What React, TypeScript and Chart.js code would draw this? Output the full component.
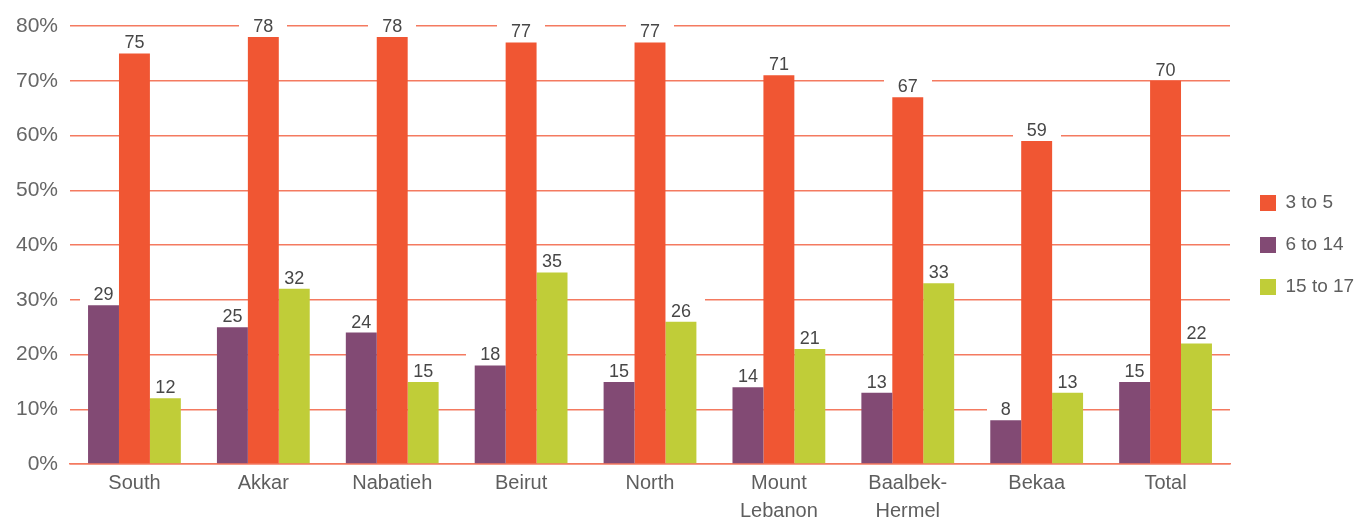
import React, { useEffect, useRef } from 'react';
import { Chart, registerables } from 'chart.js';

Chart.register(...registerables);

const categories: (string | string[])[] = [
  'South', 'Akkar', 'Nabatieh', 'Beirut', 'North',
  ['Mount', 'Lebanon'], ['Baalbek-', 'Hermel'], 'Bekaa', 'Total',
];
const age6to14 = [29, 25, 24, 18, 15, 14, 13, 8, 15];
const age3to5 = [75, 78, 78, 77, 77, 71, 67, 59, 70];
const age15to17 = [12, 32, 15, 35, 26, 21, 33, 13, 22];
const legendOrder = ['3 to 5', '6 to 14', '15 to 17'];
const yMax = 80;
const yStep = 10;

const FONT = '"Liberation Sans", Arial, sans-serif';
const GRID = '#f47a60';

const valueLabels = {
  id: 'valueLabels',
  beforeDatasetsDraw(chart: any) {
    const ctx = chart.ctx;
    ctx.save();
    ctx.font = `18px ${FONT}`;
    ctx.fillStyle = '#ffffff';
    chart.data.datasets.forEach((ds: any, i: number) => {
      const meta = chart.getDatasetMeta(i);
      meta.data.forEach((bar: any, j: number) => {
        const txt = String(ds.data[j]);
        const w = ctx.measureText(txt).width + 28;
        ctx.fillRect(Math.round(bar.x - w / 2), Math.round(bar.y - 26), Math.round(w), 24);
      });
    });
    ctx.restore();
  },
  afterDatasetsDraw(chart: any) {
    const ctx = chart.ctx;
    ctx.save();
    ctx.font = `18px ${FONT}`;
    ctx.fillStyle = '#474747';
    ctx.textAlign = 'center';
    ctx.textBaseline = 'alphabetic';
    chart.data.datasets.forEach((ds: any, i: number) => {
      const meta = chart.getDatasetMeta(i);
      meta.data.forEach((bar: any, j: number) => {
        ctx.fillText(String(ds.data[j]), bar.x, bar.y - 5);
      });
    });
    ctx.restore();
  },
};

export default function App() {
  const ref = useRef<HTMLCanvasElement>(null);

  useEffect(() => {
    document.body.style.margin = '0';
    if (!ref.current) return;
    const chart = new Chart(ref.current, {
      type: 'bar',
      data: {
        labels: categories as any,
        datasets: [
          { label: '6 to 14', data: age6to14, backgroundColor: '#824a74' },
          { label: '3 to 5', data: age3to5, backgroundColor: '#f05633' },
          { label: '15 to 17', data: age15to17, backgroundColor: '#c0cd38' },
        ],
      },
      options: {
        responsive: false,
        animation: false,
        datasets: { bar: { categoryPercentage: 0.72, barPercentage: 1.0 } },
        layout: { padding: { top: 26, left: 0, right: 0, bottom: 0 } },
        plugins: {
          tooltip: { enabled: false },
          legend: {
            position: 'right',
            fullSize: false,
            maxWidth: 120,
            labels: {
              boxWidth: 16,
              boxHeight: 16,
              padding: 23,
              color: '#5e5e5e',
              font: { size: 19, family: FONT },
              sort: (a: any, b: any) => legendOrder.indexOf(a.text) - legendOrder.indexOf(b.text),
            },
          },
        },
        scales: {
          x: {
            grid: { display: false, drawTicks: false },
            border: { display: true, color: GRID, width: 1.5 },
            ticks: {
              color: '#5e5e5e',
              font: { size: 20, family: FONT, lineHeight: 1.4 },
              padding: 5,
              maxRotation: 0,
              autoSkip: false,
            },
            afterFit: (s: any) => { s.height = 59; },
          },
          y: {
            min: 0,
            max: yMax,
            grid: { color: GRID, lineWidth: 1.5, drawTicks: false },
            border: { display: false },
            ticks: {
              stepSize: yStep,
              color: '#666666',
              font: { size: 21, family: FONT },
              padding: 12,
              callback: (v: any) => `${v}%`,
            },
            afterFit: (s: any) => { s.width = 70; },
          },
          spacer: {
            type: 'linear',
            position: 'right',
            display: true,
            grid: { display: false, drawTicks: false },
            border: { display: false },
            ticks: { display: false },
            afterFit: (s: any) => { s.width = 7; },
          },
        } as any,
      },
      plugins: [valueLabels],
    });
    return () => chart.destroy();
  }, []);

  return <canvas ref={ref} width={1357} height={523} style={{ display: 'block' }} />;
}
